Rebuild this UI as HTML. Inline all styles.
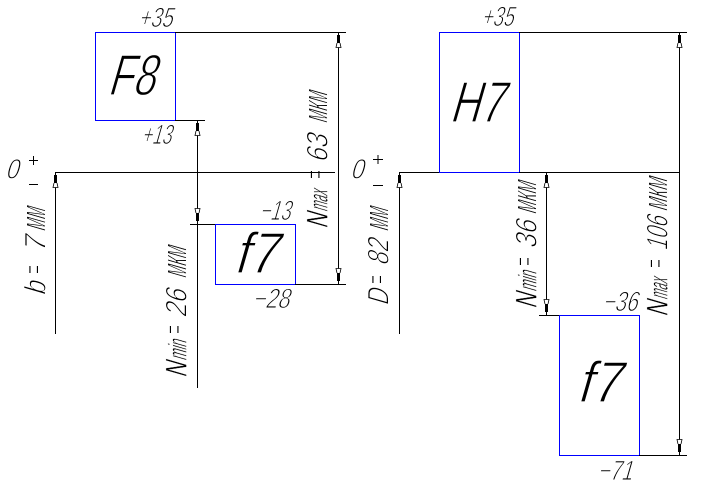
<!DOCTYPE html>
<html><head><meta charset="utf-8"><style>
html,body{margin:0;padding:0;background:#fff;width:701px;height:484px;overflow:hidden}
svg{display:block}
text{font-family:"Liberation Sans",sans-serif;fill:#000;stroke:#fff}
.b{font-size:58px;stroke-width:1.3}
.s{font-size:28px;stroke-width:1}
.m{font-size:30px;stroke-width:1}
.k{font-size:36px;stroke-width:1.1}
.n{font-size:30px;stroke-width:.4}
.u{font-size:26px;stroke-width:.5}
.l{stroke:#000;stroke-width:1;fill:none}
.r{stroke:#00f;stroke-width:1;fill:#fff}
</style></head><body>
<svg width="701" height="484" viewBox="0 0 701 484" xmlns="http://www.w3.org/2000/svg">
<defs>
<g id="up"><rect x="-1.5" y="3" width="3" height="8" fill="#000"/><path d="M-1.500 11L-2.500 15.500H2.500L1.500 11" fill="#fff" stroke="#000" stroke-width=".8"/></g>
<g id="dn"><rect x="-1.5" y="-11" width="3" height="8" fill="#000"/><path d="M-1.500 -11L-2.500 -15.500H2.500L1.500 -11" fill="#fff" stroke="#000" stroke-width=".8"/></g>
</defs>
<rect class="r" x="95.500" y="32.500" width="80" height="88"/>
<rect class="r" x="215.500" y="224.500" width="80" height="60"/>
<rect class="r" x="439.500" y="32.500" width="80" height="140"/>
<rect class="r" x="559.500" y="315.500" width="80" height="140"/>

<text class="b" transform="translate(107,95) skewX(-16)" textLength="47" lengthAdjust="spacingAndGlyphs">F8</text>
<text class="b" transform="translate(449,122) skewX(-16)" textLength="53" lengthAdjust="spacingAndGlyphs">H7</text>
<text class="b" transform="translate(233,273) skewX(-16)" textLength="43" lengthAdjust="spacingAndGlyphs">f7</text>
<text class="b" transform="translate(576,402) skewX(-16)" textLength="43" lengthAdjust="spacingAndGlyphs">f7</text>

<text class="s" transform="translate(138,27) skewX(-16)" textLength="34" lengthAdjust="spacingAndGlyphs">+35</text>
<text class="s" transform="translate(141,144) skewX(-16)" textLength="30" lengthAdjust="spacingAndGlyphs">+13</text>
<text class="s" transform="translate(259,220) skewX(-16)" textLength="31" lengthAdjust="spacingAndGlyphs">−13</text>
<text class="s" transform="translate(252,308) skewX(-16)" textLength="37" lengthAdjust="spacingAndGlyphs">−28</text>
<text class="s" transform="translate(481,26) skewX(-16)" textLength="32" lengthAdjust="spacingAndGlyphs">+35</text>
<text class="s" transform="translate(602,311) skewX(-16)" textLength="35" lengthAdjust="spacingAndGlyphs">−36</text>
<text class="s" transform="translate(597,480) skewX(-16)" textLength="35" lengthAdjust="spacingAndGlyphs">−71</text>

<text class="s" transform="translate(5,178.500) skewX(-16)" textLength="13" lengthAdjust="spacingAndGlyphs">0</text>
<text class="s" transform="translate(350,178.500) skewX(-16)" textLength="13" lengthAdjust="spacingAndGlyphs">0</text>
<path class="l" d="M29 160.500H38M33.500 156V165M29 184.500H38M373 159.500H383M378 155V164M373 185.500H383"/>

<text class="n" transform="translate(327.500,229) rotate(-90) skewX(-16)" textLength="15" lengthAdjust="spacingAndGlyphs">N</text>
<text class="u" transform="translate(327.500,212) rotate(-90) skewX(-16)" textLength="21" lengthAdjust="spacingAndGlyphs">max</text>
<text class="m" transform="translate(325,179) rotate(-90)" textLength="9" lengthAdjust="spacingAndGlyphs">=</text>
<text class="m" transform="translate(327.500,163) rotate(-90) skewX(-16)" textLength="28" lengthAdjust="spacingAndGlyphs">63</text>
<text class="k" transform="translate(327.500,124) rotate(-90) skewX(-16)" textLength="31" lengthAdjust="spacingAndGlyphs">мкм</text>

<text class="n" transform="translate(186.500,378) rotate(-90) skewX(-16)" textLength="15" lengthAdjust="spacingAndGlyphs">N</text>
<text class="u" transform="translate(186.500,361) rotate(-90) skewX(-16)" textLength="20" lengthAdjust="spacingAndGlyphs">min</text>
<text class="m" transform="translate(184,334) rotate(-90)" textLength="9" lengthAdjust="spacingAndGlyphs">=</text>
<text class="m" transform="translate(186.500,318) rotate(-90) skewX(-16)" textLength="28" lengthAdjust="spacingAndGlyphs">26</text>
<text class="k" transform="translate(186.500,279) rotate(-90) skewX(-16)" textLength="31" lengthAdjust="spacingAndGlyphs">мкм</text>

<text class="m" transform="translate(45.500,296) rotate(-90) skewX(-16)" textLength="14" lengthAdjust="spacingAndGlyphs">b</text>
<text class="m" transform="translate(43.500,274) rotate(-90)" textLength="9" lengthAdjust="spacingAndGlyphs">=</text>
<text class="m" transform="translate(45.500,253) rotate(-90) skewX(-16)" textLength="16" lengthAdjust="spacingAndGlyphs">7</text>
<text class="k" transform="translate(45.500,232) rotate(-90) skewX(-16)" textLength="23" lengthAdjust="spacingAndGlyphs">мм</text>

<text class="m" transform="translate(388.500,306) rotate(-90) skewX(-16)" textLength="16" lengthAdjust="spacingAndGlyphs">D</text>
<text class="m" transform="translate(386.500,284) rotate(-90)" textLength="9" lengthAdjust="spacingAndGlyphs">=</text>
<text class="m" transform="translate(388.500,266) rotate(-90) skewX(-16)" textLength="26" lengthAdjust="spacingAndGlyphs">82</text>
<text class="k" transform="translate(388.500,232) rotate(-90) skewX(-16)" textLength="23" lengthAdjust="spacingAndGlyphs">мм</text>

<text class="n" transform="translate(536.500,309) rotate(-90) skewX(-16)" textLength="15" lengthAdjust="spacingAndGlyphs">N</text>
<text class="u" transform="translate(536.500,292) rotate(-90) skewX(-16)" textLength="20" lengthAdjust="spacingAndGlyphs">min</text>
<text class="m" transform="translate(534,266) rotate(-90)" textLength="9" lengthAdjust="spacingAndGlyphs">=</text>
<text class="m" transform="translate(536.500,249) rotate(-90) skewX(-16)" textLength="28" lengthAdjust="spacingAndGlyphs">36</text>
<text class="k" transform="translate(536.500,215) rotate(-90) skewX(-16)" textLength="32" lengthAdjust="spacingAndGlyphs">мкм</text>

<text class="n" transform="translate(667.500,317) rotate(-90) skewX(-16)" textLength="15" lengthAdjust="spacingAndGlyphs">N</text>
<text class="u" transform="translate(667.500,300) rotate(-90) skewX(-16)" textLength="21" lengthAdjust="spacingAndGlyphs">max</text>
<text class="m" transform="translate(665,268) rotate(-90)" textLength="9" lengthAdjust="spacingAndGlyphs">=</text>
<text class="m" transform="translate(667.500,251) rotate(-90) skewX(-16)" textLength="34" lengthAdjust="spacingAndGlyphs">106</text>
<text class="k" transform="translate(667.500,212) rotate(-90) skewX(-16)" textLength="33" lengthAdjust="spacingAndGlyphs">мкм</text>

<path class="l" d="M175 32.500H346M175 120.500H205M55 172.500H335M190 224.500H215M295 284.500H346M338.500 32V284M197.500 120V388M55.500 172V334"/>
<path class="l" d="M519 32.500H687M399 172.500H439M519 172.500H679M539 315.500H559M639 455.500H687M679.500 32V455M546.500 172V315M399.500 172V334"/>

<use href="#up" x="338.500" y="32"/><use href="#dn" x="338.500" y="284"/>
<use href="#up" x="197.500" y="120"/><use href="#dn" x="197.500" y="224"/>
<use href="#up" x="55.500" y="172"/><use href="#up" x="399.500" y="172"/>
<use href="#up" x="546.500" y="172"/><use href="#dn" x="546.500" y="315"/>
<use href="#up" x="679.500" y="32"/><use href="#dn" x="679.500" y="455"/>
</svg>
</body></html>
